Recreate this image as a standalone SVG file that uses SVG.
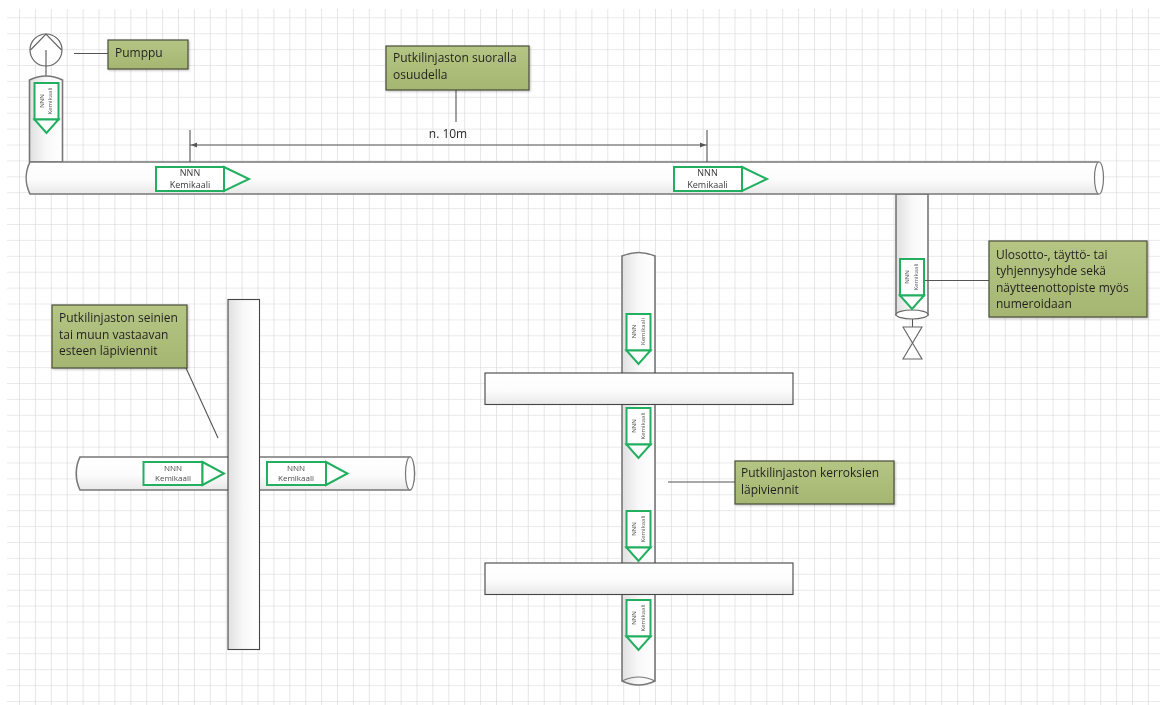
<svg xmlns="http://www.w3.org/2000/svg" width="1168" height="705" viewBox="0 0 1168 705">
<style>
text{font-family:"Open Sans","Noto Sans","Liberation Sans",sans-serif;fill:#1c1c1c;opacity:.97}
.note{fill:url(#olive);stroke:#4a4f3a;stroke-width:1.2;filter:drop-shadow(1px 1px 1px rgba(0,0,0,.25))}
.nt{font-size:12px}
.lb{font-size:9px;text-anchor:middle;fill:#333}
.ls{font-size:8px;text-anchor:middle;fill:#444}
.lv{font-size:6px;text-anchor:middle;fill:#555}
.tag{fill:#fff;stroke:#22b060;stroke-width:2}
.pipe{stroke:#777;stroke-width:1.6}
.wall{stroke:#444;stroke-width:1.1}
.lead{fill:none;stroke:#555;stroke-width:1.1}
</style>
<defs>
<pattern id="grid" patternUnits="userSpaceOnUse" x="4.1" y="2.4" width="15.9" height="15.9"><path d="M15.9 0V15.9M0 15.9H15.9" fill="none" stroke="#d6d6d6" stroke-width="1.2"/></pattern>
<linearGradient id="h" x1="0" y1="0" x2="0" y2="1"><stop offset="0" stop-color="#fff"/><stop offset=".55" stop-color="#fcfcfc"/><stop offset="1" stop-color="#e8e8e8"/></linearGradient>
<linearGradient id="v" x1="0" y1="0" x2="1" y2="0"><stop offset="0" stop-color="#e0e0e0"/><stop offset=".5" stop-color="#f8f8f8"/><stop offset="1" stop-color="#fff"/></linearGradient>
<linearGradient id="olive" x1="0" y1="0" x2="0" y2="1"><stop offset="0" stop-color="#b5c584"/><stop offset="1" stop-color="#a5b672"/></linearGradient>
<g id="tagH"><path class="tag" d="M0 0H68V24H0Z"/><path class="tag" d="M68 0L93 12L68 24Z"/></g>
<g id="tagS"><path class="tag" d="M0 0H59V23H0Z"/><path class="tag" d="M59 0L80.500 11.500L59 23Z"/></g>
<g id="tagV"><path class="tag" d="M0 0H24V36.500H0Z"/><path class="tag" d="M0 36.500H24L12 50Z"/></g>
</defs>
<rect width="1168" height="705" fill="#fff"/>
<rect x="7" y="9" width="1153" height="696" fill="url(#grid)"/>

<g id="pump">
<circle cx="46" cy="50" r="16" fill="#fff" stroke="#666" stroke-width="1.2"/>
<path d="M30.500 50L46 34L61.500 50" fill="none" stroke="#666" stroke-width="1.2"/>
<path d="M46 50V78" class="lead"/>
</g>
<g id="pipe-pump">
<path class="pipe" fill="url(#v)" d="M29.500 162V80Q46 72 62.500 80V162Z"/>
<use href="#tagV" x="34.500" y="83"/>
<text class="lv" transform="translate(43.500 101) rotate(-90)">NNN</text>
<text class="lv" transform="translate(52 101) rotate(-90)">Kemikaali</text>
</g>
<g id="pipe-branch">
<path class="pipe" fill="url(#v)" d="M896 194V315H928V194Z"/>
<ellipse cx="912" cy="314.500" rx="16" ry="4.500" fill="#fff" stroke="#666" stroke-width="1.2"/>
</g>
<g id="pipe-main">
<path class="pipe" fill="url(#h)" d="M30 162H1098C1104 172 1104 184 1098 194H30C25 184 25 172 30 162Z"/>
<ellipse cx="1099" cy="178" rx="4.500" ry="16" fill="#fff" stroke="#777" stroke-width="1.200"/>
</g>
<g id="tag-main-1">
<use href="#tagH" x="156" y="167"/>
<text class="lb" x="190" y="175.500">NNN</text>
<text class="lb" x="190" y="188">Kemikaali</text>
</g>
<g id="tag-main-2">
<use href="#tagH" x="674" y="167"/>
<text class="lb" x="707.500" y="175.500">NNN</text>
<text class="lb" x="707.500" y="188">Kemikaali</text>
</g>
<g id="tag-branch">
<use href="#tagV" x="900" y="259"/>
<text class="lv" transform="translate(908.500 277) rotate(-90)">NNN</text>
<text class="lv" transform="translate(917.500 277) rotate(-90)">Kemikaali</text>
</g>
<g id="valve">
<path d="M912.500 319V327" class="lead"/>
<path d="M903 327H922L903 359H922Z" fill="#fff" stroke="#666" stroke-width="1.100"/>
</g>

<g id="dimension">
<path class="lead" d="M190 130V162M707 130V162M190 145H707"/>
<path d="M191 145L197 142.500V147.500Z M706 145L700 142.500V147.500Z" fill="#555"/>
<text x="448" y="138" text-anchor="middle" font-size="12">n. 10m</text>
</g>

<g id="pipe-horizontal">
<path class="pipe" fill="url(#h)" d="M80 457H410C416 467 416 480 410 490H80C75 480 75 467 80 457Z"/>
<ellipse cx="410" cy="473.500" rx="4.500" ry="16.500" fill="#fff" stroke="#777" stroke-width="1.200"/>
</g>
<g id="wall-v"><rect x="228" y="299.500" width="31.500" height="350" class="wall" fill="url(#v)"/></g>
<g id="tag-h-1">
<use href="#tagS" x="143.500" y="462"/>
<text class="ls" x="173" y="471">NNN</text>
<text class="ls" x="173" y="481">Kemikaali</text>
</g>
<g id="tag-h-2">
<use href="#tagS" x="267" y="462"/>
<text class="ls" x="296" y="471">NNN</text>
<text class="ls" x="296" y="481">Kemikaali</text>
</g>

<g id="pipe-vertical">
<path class="pipe" fill="url(#v)" d="M622 681V256Q638.500 249 655 256V681Q638.500 689 622 681Z"/>
<path d="M622 681Q638.500 673 655 681" fill="none" stroke="#777" stroke-width="1.200"/>
</g>
<g id="tag-v-1">
<use href="#tagV" x="626.500" y="314"/>
<text class="lv" transform="translate(636 331.500) rotate(-90)">NNN</text>
<text class="lv" transform="translate(644.500 331.500) rotate(-90)">Kemikaali</text>
</g>
<g id="slab-1"><rect x="485" y="373" width="308" height="31.500" class="wall" fill="url(#h)"/></g>
<g id="tag-v-2">
<use href="#tagV" x="626.500" y="408"/>
<text class="lv" transform="translate(636 426) rotate(-90)">NNN</text>
<text class="lv" transform="translate(644.500 426) rotate(-90)">Kemikaali</text>
</g>
<g id="tag-v-3">
<use href="#tagV" x="626.500" y="511"/>
<text class="lv" transform="translate(636 529) rotate(-90)">NNN</text>
<text class="lv" transform="translate(644.500 529) rotate(-90)">Kemikaali</text>
</g>
<g id="slab-2"><rect x="485" y="563" width="308" height="31.500" class="wall" fill="url(#h)"/></g>
<g id="tag-v-4">
<use href="#tagV" x="626.500" y="600"/>
<text class="lv" transform="translate(636 618) rotate(-90)">NNN</text>
<text class="lv" transform="translate(644.500 618) rotate(-90)">Kemikaali</text>
</g>

<g id="connectors">
<path class="lead" d="M74 53.500H108"/>
<path class="lead" d="M456 90V122"/>
<path class="lead" d="M925 280.500H990"/>
<path class="lead" d="M186 368L218 438"/>
<path class="lead" d="M668 482H735"/>
</g>

<g id="note-pumppu"><rect class="note" x="108" y="40" width="80" height="29"/><text class="nt" x="115" y="57">Pumppu</text></g>
<g id="note-suora"><rect class="note" x="386" y="46" width="143" height="44"/><text class="nt" x="393" y="62">Putkilinjaston suoralla</text><text class="nt" x="393" y="79">osuudella</text></g>
<g id="note-ulos"><rect class="note" x="989" y="241" width="158" height="76"/><text class="nt" x="996" y="259">Ulosotto-, täyttö- tai</text><text class="nt" x="996" y="275">tyhjennysyhde sekä</text><text class="nt" x="996" y="292">näytteenottopiste myös</text><text class="nt" x="996" y="308">numeroidaan</text></g>
<g id="note-seinat"><rect class="note" x="52" y="305" width="135" height="63"/><text class="nt" x="59" y="322">Putkilinjaston seinien</text><text class="nt" x="59" y="339">tai muun vastaavan</text><text class="nt" x="59" y="355">esteen läpiviennit</text></g>
<g id="note-kerros"><rect class="note" x="735" y="461" width="159" height="43"/><text class="nt" x="741" y="477">Putkilinjaston kerroksien</text><text class="nt" x="741" y="494">läpiviennit</text></g>
</svg>
